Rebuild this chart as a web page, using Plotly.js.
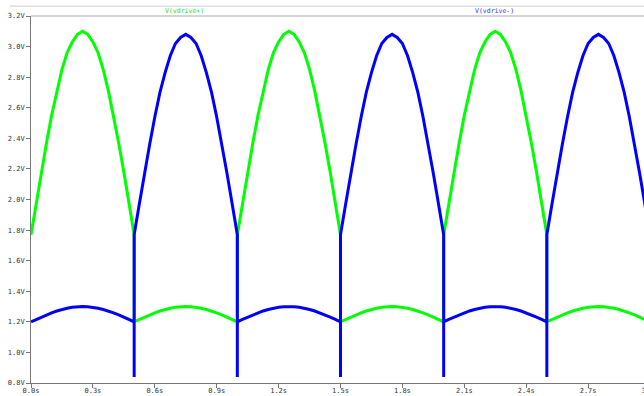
<!DOCTYPE html>
<html>
<head>
<meta charset="utf-8">
<script src="https://cdn.plot.ly/plotly-3.0.1.min.js"></script>
<style>
html,body{margin:0;padding:0;overflow:hidden;background:#fff;}
#chart{width:700px;height:396px;}
</style>
</head>
<body>
<div id="chart"></div>
<script>
// sample offsets within each half-cycle (s)
const offsets = [0,0.025,0.05,0.075,0.1,0.125,0.15,0.175,0.2,0.225,0.25,0.275,0.3,0.325,0.35,0.375,0.4,0.425,0.45,0.475,0.5];
// start time of each half-cycle (s)
const halfStarts = [0,0.5,1.0,1.5,2.0,2.5];

// V(vdrive+) read values per half-cycle
const gHigh1 = [1.77,1.98,2.18,2.37,2.55,2.71,2.85,2.96,3.03,3.08,3.10,3.08,3.03,2.96,2.85,2.71,2.55,2.37,2.18,1.98,1.77];
const gLow1  = [1.20,1.216,1.231,1.245,1.259,1.271,1.281,1.289,1.295,1.299,1.30,1.299,1.295,1.289,1.281,1.271,1.259,1.245,1.231,1.216,1.20];
const gHigh2 = [1.77,1.98,2.18,2.37,2.55,2.71,2.85,2.96,3.03,3.08,3.10,3.08,3.03,2.96,2.85,2.71,2.55,2.37,2.18,1.98,1.77];
const gLow2  = [1.20,1.216,1.231,1.245,1.259,1.271,1.281,1.289,1.295,1.299,1.30,1.299,1.295,1.289,1.281,1.271,1.259,1.245,1.231,1.216,1.20];
const gHigh3 = [1.77,1.98,2.18,2.37,2.55,2.71,2.85,2.96,3.03,3.08,3.10,3.08,3.03,2.96,2.85,2.71,2.55,2.37,2.18,1.98,1.77];
const gLow3  = [1.20,1.216,1.231,1.245,1.259,1.271,1.281,1.289,1.295,1.299,1.30,1.299,1.295,1.289,1.281,1.271,1.259,1.245,1.231,1.216,1.20];

// V(vdrive-) read values per half-cycle
const bLow1  = [1.20,1.216,1.231,1.245,1.259,1.271,1.281,1.289,1.295,1.299,1.30,1.299,1.295,1.289,1.281,1.271,1.259,1.245,1.231,1.216,1.20];
const bHigh1 = [1.77,1.97,2.17,2.36,2.54,2.70,2.83,2.94,3.02,3.06,3.08,3.06,3.02,2.94,2.83,2.70,2.54,2.36,2.17,1.97,1.77];
const bLow2  = [1.20,1.216,1.231,1.245,1.259,1.271,1.281,1.289,1.295,1.299,1.30,1.299,1.295,1.289,1.281,1.271,1.259,1.245,1.231,1.216,1.20];
const bHigh2 = [1.77,1.97,2.17,2.36,2.54,2.70,2.83,2.94,3.02,3.06,3.08,3.06,3.02,2.94,2.83,2.70,2.54,2.36,2.17,1.97,1.77];
const bLow3  = [1.20,1.216,1.231,1.245,1.259,1.271,1.281,1.289,1.295,1.299,1.30,1.299,1.295,1.289,1.281,1.271,1.259,1.245,1.231,1.216,1.20];
const bHigh3 = [1.77,1.97,2.17,2.36,2.54,2.70,2.83,2.94,3.02,3.06,3.08,3.06,3.02,2.94,2.83,2.70,2.54,2.36,2.17,1.97,1.77];
// negative spike minimum at each switching instant
const bSpikeMin = [0.84,0.84,0.84,0.84,0.84];

const xTickVals = [0,0.3,0.6,0.9,1.2,1.5,1.8,2.1,2.4,2.7,3.0];
const xTickText = ['0.0s','0.3s','0.6s','0.9s','1.2s','1.5s','1.8s','2.1s','2.4s','2.7s','3.0s'];
const yTickVals = [0.8,1.0,1.2,1.4,1.6,1.8,2.0,2.2,2.4,2.6,2.8,3.0,3.2];
const yTickText = ['0.8V','1.0V','1.2V','1.4V','1.6V','1.8V','2.0V','2.2V','2.4V','2.6V','2.8V','3.0V','3.2V'];

const greenSegs = [gHigh1,gLow1,gHigh2,gLow2,gHigh3,gLow3];
const blueSegs  = [bLow1,bHigh1,bLow2,bHigh2,bLow3,bHigh3];

function build(segs, spikes){
  const xs=[], ys=[];
  segs.forEach((seg,i)=>{
    if(spikes && i>0){ xs.push(halfStarts[i]); ys.push(spikes[i-1]); }
    seg.forEach((v,j)=>{ xs.push(halfStarts[i]+offsets[j]); ys.push(v); });
  });
  return {xs,ys};
}
const g = build(greenSegs,null);
const b = build(blueSegs,bSpikeMin);

const axisFont = {family:'DejaVu Sans Mono, monospace', size:7, color:'#333'};
const data = [
  {x:g.xs, y:g.ys, type:'scatter', mode:'lines', line:{color:'#00ff00', width:3}, name:'V(vdrive+)', hoverinfo:'skip'},
  {x:b.xs, y:b.ys, type:'scatter', mode:'lines', line:{color:'#0000ff', width:3}, name:'V(vdrive-)', hoverinfo:'skip'}
];
const layout = {
  width:700, height:396,
  margin:{l:31, r:50, t:16, b:13, pad:0},
  paper_bgcolor:'#fff', plot_bgcolor:'#fff',
  showlegend:false,
  xaxis:{range:[0,3.0], tickvals:xTickVals, ticktext:xTickText, showgrid:false, zeroline:false,
         showline:true, linecolor:'#777', linewidth:1, ticks:'outside', ticklen:4, tickcolor:'#777',
         tickfont:axisFont, ticklabelstandoff:-3, fixedrange:true},
  yaxis:{range:[0.8,3.2], tickvals:yTickVals, ticktext:yTickText, showgrid:false, zeroline:false,
         showline:true, linecolor:'#777', linewidth:1, ticks:'outside', ticklen:4, tickcolor:'#777',
         tickfont:axisFont, fixedrange:true},
  shapes:[
    {type:'line', xref:'paper', yref:'paper', x0:0, x1:1.1, y0:1, y1:1, line:{color:'#aaa', width:1}},
    {type:'line', xref:'paper', yref:'paper', x0:-0.034, x1:1.1, y0:1.027, y1:1.027, line:{color:'#ccc', width:1}}
  ],
  annotations:[
    {xref:'paper', yref:'paper', x:0.248, y:1.0136, text:'V(vdrive+)', showarrow:false,
     font:{family:'DejaVu Sans Mono, monospace', size:6.5, color:'#22dd22'}, xanchor:'center', yanchor:'middle'},
    {xref:'paper', yref:'paper', x:0.748, y:1.0136, text:'V(vdrive-)', showarrow:false,
     font:{family:'DejaVu Sans Mono, monospace', size:6.5, color:'#3333ee'}, xanchor:'center', yanchor:'middle'}
  ]
};
Plotly.newPlot('chart', data, layout, {staticPlot:true, displayModeBar:false});
</script>
</body>
</html>
